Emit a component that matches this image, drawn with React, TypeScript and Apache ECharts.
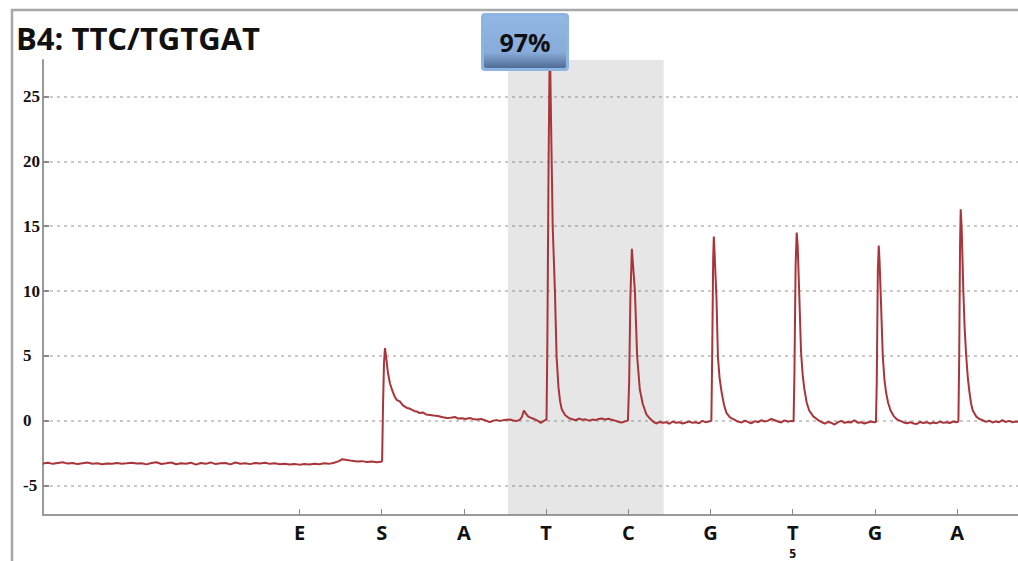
import React, { useEffect, useRef } from "react";
import * as echarts from "echarts";

const chartTitle = "B4: TTC/TGTGAT";
const percentLabel = "97%";

// dispensation order positions (x units) and labels
const dispensationPos = [10, 20, 30, 40, 50, 60, 70, 80, 90];
const dispensationLabels = ["E", "S", "A", "T", "C", "G", "T", "G", "A"];
const countPos = [70];
const countLabels = ["5"];
const yTickValues = [-5, 0, 5, 10, 15, 20, 25];
const highlightRange = [35.35, 54.3];

// trace segments [x, signal]
const baselinePre: number[][] = [
  [-21.2, -3.28], [-20.6, -3.22], [-20.0, -3.31], [-19.4, -3.25], [-18.8, -3.19], [-18.2, -3.29],
  [-17.6, -3.24], [-17.0, -3.33], [-16.4, -3.27], [-15.8, -3.21], [-15.2, -3.3], [-14.6, -3.26],
  [-14.0, -3.34], [-13.4, -3.28], [-12.8, -3.31], [-12.2, -3.25], [-11.6, -3.3], [-11.0, -3.27],
  [-10.4, -3.22], [-9.8, -3.29], [-9.2, -3.26], [-8.6, -3.35], [-8.0, -3.24], [-7.4, -3.19],
  [-6.8, -3.32], [-6.2, -3.27], [-5.6, -3.21], [-5.0, -3.34], [-4.4, -3.26], [-3.8, -3.3],
  [-3.2, -3.22], [-2.6, -3.37], [-2.0, -3.25], [-1.4, -3.31], [-0.8, -3.2], [-0.2, -3.33],
  [0.4, -3.27], [1.0, -3.24], [1.6, -3.35], [2.2, -3.21], [2.8, -3.3], [3.4, -3.26],
  [4.0, -3.33], [4.6, -3.25], [5.2, -3.29], [5.8, -3.22], [6.4, -3.31], [7.0, -3.27],
  [7.6, -3.34], [8.2, -3.3], [8.8, -3.36], [9.4, -3.32], [10.0, -3.37], [10.6, -3.33],
  [11.2, -3.36], [11.8, -3.3], [12.4, -3.34], [13.0, -3.27], [13.6, -3.31], [14.2, -3.22],
  [14.8, -3.1], [15.2, -2.95], [15.8, -3.02], [16.4, -3.08], [17.0, -3.12], [17.6, -3.1],
  [18.2, -3.16], [18.8, -3.13], [19.4, -3.18], [19.9, -3.15],
];
const peakS: number[][] = [
  [20.05, -3.1], [20.15, 0.8], [20.28, 4.5], [20.4, 5.6], [20.52, 5.0], [20.76, 3.7], [21.0, 2.9],
  [21.25, 2.4], [21.55, 1.9], [21.85, 1.6], [22.2, 1.5], [22.58, 1.2], [23.07, 1.0], [23.4, 0.95],
  [23.7, 0.85], [24.0, 0.75], [24.3, 0.72], [24.6, 0.6], [25.0, 0.65], [25.4, 0.5], [25.87, 0.46],
  [26.3, 0.42], [26.84, 0.38], [27.3, 0.3], [27.93, 0.22], [28.4, 0.25], [28.9, 0.3], [29.3, 0.18],
  [29.76, 0.2], [30.2, 0.15], [30.73, 0.22], [31.2, 0.12], [31.7, 0.1], [32.1, 0.14], [32.55, 0.05],
  [33.16, -0.1], [33.6, 0.02], [34.0, 0.06], [34.4, 0.0], [34.74, 0.04], [35.2, 0.08], [35.6, 0.1],
  [36.0, 0.03], [36.44, 0.0], [36.8, 0.08], [37.05, 0.3], [37.3, 0.8], [37.5, 0.6], [37.8, 0.35],
  [38.1, 0.25], [38.4, 0.18], [38.7, 0.1], [39.0, 0.0], [39.36, -0.15], [39.6, -0.05], [39.85, 0.05],
  [40.05, 0.1],
];
const peakT1: number[][] = [
  [40.15, 6], [40.3, 20], [40.45, 29.5], [40.6, 23], [40.8, 15], [41.07, 10], [41.27, 5], [41.5, 2.6],
  [41.7, 1.5], [41.9, 0.9], [42.3, 0.45], [42.8, 0.2], [43.2, 0.12], [43.6, 0.05], [44.0, 0.18],
  [44.4, 0.08], [44.8, 0.12], [45.2, 0.02], [45.6, 0.1], [46.0, 0.06], [46.4, 0.14], [46.8, 0.18],
  [47.2, 0.1], [47.6, 0.16], [48.0, 0.08], [48.4, 0.02], [48.8, -0.08], [49.2, -0.12], [49.6, -0.04],
  [49.95, 0.02],
];
const peakC: number[][] = [
  [50.1, 3.0], [50.25, 9.5], [50.43, 13.25], [50.55, 12.2], [50.8, 10.0], [51.07, 5.0], [51.4, 2.4],
  [51.76, 1.3], [52.2, 0.5], [52.6, 0.2], [53.0, -0.05], [53.4, -0.2], [53.8, -0.08], [54.2, -0.15],
  [54.6, -0.1], [55.0, -0.22], [55.4, -0.05], [55.8, -0.15], [56.2, -0.1], [56.6, -0.2], [57.0, -0.12],
  [57.4, -0.05], [57.8, -0.15], [58.2, -0.1], [58.6, -0.18], [59.0, 0.0], [59.4, -0.1], [59.8, -0.05],
  [60.1, 0.0],
];
const peakG1: number[][] = [
  [60.2, 5.0], [60.32, 12.5], [60.4, 14.2], [60.5, 12.8], [60.73, 9.3], [60.9, 4.9], [61.1, 3.3],
  [61.35, 2.2], [61.65, 1.2], [61.95, 0.6], [62.4, 0.25], [62.9, 0.1], [63.3, -0.05], [63.8, -0.12],
  [64.2, 0.02], [64.6, -0.1], [65.0, -0.18], [65.4, -0.02], [65.8, -0.1], [66.2, 0.05], [66.6, -0.06],
  [67.0, 0.02], [67.4, 0.15], [67.8, 0.05], [68.2, -0.05], [68.6, -0.12], [69.0, 0.04], [69.4, -0.06],
  [69.8, 0.0], [70.1, -0.02],
];
const peakT2: number[][] = [
  [70.2, 3.5], [70.35, 12.0], [70.48, 14.5], [70.6, 13.5], [70.8, 9.6], [71.0, 5.4], [71.2, 3.6],
  [71.4, 2.5], [71.7, 1.4], [72.0, 0.8], [72.5, 0.35], [73.0, 0.1], [73.4, -0.05], [73.9, -0.22],
  [74.3, -0.08], [74.7, -0.15], [75.1, -0.28], [75.5, -0.1], [75.9, 0.0], [76.3, -0.15], [76.7, -0.08],
  [77.1, -0.12], [77.5, 0.05], [77.9, -0.15], [78.3, -0.1], [78.7, -0.2], [79.1, -0.12], [79.5, -0.05],
  [79.9, -0.1], [80.12, -0.08],
];
const peakG2: number[][] = [
  [80.22, 3.0], [80.35, 11.5], [80.46, 13.5], [80.56, 12.3], [80.75, 8.8], [80.95, 5.0], [81.15, 3.2],
  [81.35, 2.2], [81.6, 1.4], [81.9, 0.8], [82.3, 0.35], [82.7, 0.1], [83.1, 0.0], [83.5, -0.12],
  [83.9, -0.18], [84.3, -0.1], [84.7, -0.2], [85.1, -0.24], [85.5, -0.08], [85.9, -0.16], [86.3, -0.1],
  [86.7, -0.2], [87.1, -0.12], [87.5, -0.18], [87.9, -0.06], [88.3, -0.14], [88.7, -0.1], [89.1, -0.16],
  [89.5, -0.05], [89.9, -0.1], [90.15, -0.05],
];
const peakA: number[][] = [
  [90.25, 5.0], [90.35, 13.5], [90.43, 16.3], [90.55, 14.8], [90.75, 10.0], [90.92, 7.0], [91.1, 5.0],
  [91.3, 3.3], [91.5, 2.2], [91.7, 1.3], [91.9, 0.8], [92.3, 0.35], [92.7, 0.15], [93.1, 0.05],
  [93.5, -0.08], [93.9, 0.02], [94.3, -0.12], [94.7, -0.04], [95.1, -0.1], [95.5, 0.05], [95.9, -0.08],
  [96.3, 0.0], [96.7, -0.1], [97.1, -0.04], [97.4, -0.06],
];

export default function App() {
  const ref = useRef<HTMLDivElement>(null);

  useEffect(() => {
    if (!ref.current) return;
    const chart = echarts.init(ref.current, null, { renderer: "svg" });
    const trace = [
      ...baselinePre, ...peakS, ...peakT1, ...peakC, ...peakG1, ...peakT2, ...peakG2, ...peakA,
    ];
    const option: any = {
      animation: false,
      backgroundColor: "#ffffff",
      grid: { left: 43, top: 60, right: 0, bottom: 46, containLabel: false, outerBoundsMode: "none" },
      xAxis: [
        {
          type: "value",
          min: -21.2,
          max: 97.4,
          axisLine: { show: true, onZero: false, lineStyle: { color: "#9a9a9a", width: 2 } },
          axisTick: {
            show: true,
            inside: true,
            length: 6,
            customValues: dispensationPos,
            lineStyle: { color: "#8a8a8a", width: 1 },
          },
          axisLabel: {
            customValues: dispensationPos,
            margin: 5,
            lineHeight: 24,
            fontFamily: "Open Sans",
            fontWeight: "bold",
            fontSize: 20,
            color: "#111",
            formatter: (v: number) => {
              const i = dispensationPos.indexOf(v);
              return i < 0 ? "" : dispensationLabels[i];
            },
          },
          splitLine: { show: false },
        },
        {
          type: "value",
          position: "bottom",
          min: -21.2,
          max: 97.4,
          axisLine: { show: false, onZero: false },
          axisTick: { show: false },
          axisLabel: {
            customValues: countPos,
            margin: 32,
            lineHeight: 13,
            fontFamily: "Open Sans",
            fontWeight: "bold",
            fontSize: 12,
            color: "#111",
            formatter: (v: number) => {
              const i = countPos.indexOf(v);
              return i < 0 ? "" : countLabels[i];
            },
          },
          splitLine: { show: false },
        },
      ],
      yAxis: {
        type: "value",
        min: -7.25,
        max: 27.8,
        axisLine: { show: true, onZero: false, lineStyle: { color: "#9a9a9a", width: 2 } },
        axisTick: {
          show: true,
          inside: true,
          length: 6,
          customValues: yTickValues,
          lineStyle: { color: "#8a8a8a", width: 2 },
        },
        axisLabel: {
          customValues: yTickValues,
          align: "left",
          margin: 20,
          fontFamily: "Liberation Serif",
          fontWeight: "bold",
          fontSize: 17,
          color: "#111",
        },
        splitLine: { show: true, lineStyle: { type: [3, 4], color: "#b8b8b8", width: 1.5 } },
      },
      series: [
        {
          type: "line",
          xAxisIndex: 0,
          data: trace,
          showSymbol: false,
          symbol: "none",
          clip: true,
          lineStyle: { color: "#a8353a", width: 2 },
          markArea: {
            silent: true,
            itemStyle: { color: "rgba(128,128,128,0.2)" },
            data: [[{ xAxis: highlightRange[0] }, { xAxis: highlightRange[1] }]],
          },
        },
      ],
      graphic: [
        { type: "line", z: 50, shape: { x1: 12, y1: 9, x2: 12, y2: 561 }, style: { stroke: "#a8a8a8", lineWidth: 2.5 } },
        { type: "line", z: 50, shape: { x1: 11, y1: 10, x2: 1018, y2: 10 }, style: { stroke: "#a8a8a8", lineWidth: 2.5 } },
        {
          type: "text",
          z: 50,
          x: 16,
          y: 38,
          style: { text: chartTitle, font: 'bold 31px "Open Sans"', fill: "#111", verticalAlign: "middle", align: "left" },
        },
        { type: "rect", z: 100, shape: { x: 481, y: 13, width: 88, height: 58, r: 4 }, style: { fill: "#8db4e2" } },
        {
          type: "rect",
          z: 101,
          shape: { x: 484, y: 16, width: 82, height: 52, r: 2 },
          style: {
            fill: new echarts.graphic.LinearGradient(0, 0, 0, 1, [
              { offset: 0, color: "#92b7e4" },
              { offset: 0.7, color: "#88acd9" },
              { offset: 1, color: "#4f6d94" },
            ]),
          },
        },
        {
          type: "text",
          z: 102,
          x: 525,
          y: 42,
          style: { text: percentLabel, font: 'bold 25px "Open Sans"', fill: "#111", align: "center", verticalAlign: "middle" },
        },
      ],
    };
    chart.setOption(option);
    return () => chart.dispose();
  }, []);

  return (
    <div
      ref={ref}
      style={{ position: "fixed", left: 0, top: 0, width: 1018, height: 561, background: "#fff" }}
    />
  );
}
